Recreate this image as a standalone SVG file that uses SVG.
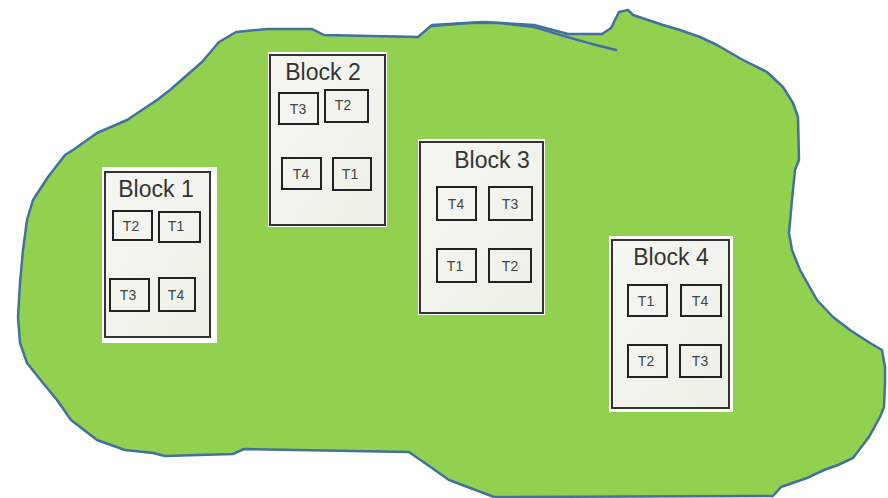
<svg xmlns="http://www.w3.org/2000/svg" width="888" height="498" viewBox="0 0 888 498">
  <defs>
    <linearGradient id="panel" x1="0" y1="0" x2="1" y2="1">
      <stop offset="0" stop-color="#f6f6f2"/>
      <stop offset="1" stop-color="#eef0e6"/>
    </linearGradient>
    <style>
      .blob { fill: #92d050; stroke: #41719c; stroke-width: 2.5; stroke-linejoin: round; }
      .blobline { fill: none; stroke: #41719c; stroke-width: 2.5; stroke-linecap: round; }
      .frame { fill: #ffffff; }
      .panel { fill: url(#panel); stroke: #333333; stroke-width: 2; }
      .task { fill: none; stroke: #222222; stroke-width: 2; }
      .title { font-family: "Liberation Sans", Arial, sans-serif; font-size: 23px; fill: #333333; text-anchor: middle; }
      .tl { font-family: "Liberation Sans", Arial, sans-serif; font-size: 14px; fill: #444444; text-anchor: middle; }
    </style>
  </defs>

  <rect width="888" height="498" fill="#ffffff"/>

  <g id="region">
    <path class="blob" d="M57,400 L43,383 L27,363 L20,343 L18,317 L20,283 L23,250 L27,220 L33,200 L48,177 L65,155 L73,150 L97,133 L127,120 L157,100 L170,90 L202,62 L219,42 L236,32 L267,29 L312,29 L324,35 L418,37 L432,25 L483,22 L534,25 L568,34 L602,34 L611,28 L619,12 L628,10 L633,15 L663,25 L680,30 L700,37 L717,45 L743,60 L767,72 L783,87 L793,103 L798,117 L799,160 L795,170 L792,200 L789,233 L792,250 L800,270 L817,300 L833,317 L850,330 L870,343 L882,350 L885,367 L885,383 L884,407 L880,417 L869,437 L853,458 L838,465 L824,470 L807,478 L781,487 L773,496 L494,497 L449,480 L432,468 L409,452 L244,449 L233,454 L165,456 L153,453 L125,450 L97,440 L71,420 Z"/>
    <path d="M540,29 L566,37 L590,44" fill="none" stroke="#ffffff" stroke-width="2"/>
    <path class="blobline" d="M432,26 L470,23 L500,23 L534,27 L560,35 L588,43 L616,50"/>
  </g>

  <g id="block1">
    <rect class="frame" x="102" y="167" width="115" height="176"/>
    <rect class="panel" x="105" y="172" width="105" height="165"/>
    <text class="title" x="156" y="197">Block 1</text>
    <g id="b1t2"><rect class="task" x="113" y="211" width="39" height="29"/><text class="tl" x="131" y="231">T2</text></g>
    <g id="b1t1"><rect class="task" x="159" y="212" width="41" height="30"/><text class="tl" x="176" y="231">T1</text></g>
    <g id="b1t3"><rect class="task" x="110" y="279" width="39" height="32"/><text class="tl" x="128" y="300">T3</text></g>
    <g id="b1t4"><rect class="task" x="159" y="278" width="36" height="33"/><text class="tl" x="176" y="300">T4</text></g>
  </g>

  <g id="block2">
    <rect class="frame" x="268" y="52" width="119" height="175"/>
    <rect class="panel" x="270" y="55" width="115" height="170"/>
    <text class="title" x="323" y="80">Block 2</text>
    <g id="b2t3"><rect class="task" x="279" y="93" width="39" height="31"/><text class="tl" x="298" y="114">T3</text></g>
    <g id="b2t2"><rect class="task" x="325" y="90" width="43" height="32"/><text class="tl" x="343" y="110">T2</text></g>
    <g id="b2t4"><rect class="task" x="282" y="158" width="39" height="31"/><text class="tl" x="301" y="179">T4</text></g>
    <g id="b2t1"><rect class="task" x="333" y="158" width="38" height="32"/><text class="tl" x="350" y="179">T1</text></g>
  </g>

  <g id="block3">
    <rect class="frame" x="418" y="139" width="127" height="176"/>
    <rect class="panel" x="420" y="142" width="123" height="171"/>
    <text class="title" x="492" y="168">Block 3</text>
    <g id="b3t4"><rect class="task" x="437" y="187" width="39" height="33"/><text class="tl" x="456" y="209">T4</text></g>
    <g id="b3t3"><rect class="task" x="489" y="187" width="43" height="33"/><text class="tl" x="510" y="209">T3</text></g>
    <g id="b3t1"><rect class="task" x="437" y="249" width="39" height="33"/><text class="tl" x="455" y="271">T1</text></g>
    <g id="b3t2"><rect class="task" x="489" y="249" width="42" height="33"/><text class="tl" x="510" y="271">T2</text></g>
  </g>

  <g id="block4">
    <rect class="frame" x="609" y="236" width="124" height="176"/>
    <rect class="panel" x="612" y="240" width="117" height="168"/>
    <text class="title" x="671" y="265">Block 4</text>
    <g id="b4t1"><rect class="task" x="628" y="285" width="39" height="31"/><text class="tl" x="646" y="306">T1</text></g>
    <g id="b4t4"><rect class="task" x="681" y="285" width="40" height="31"/><text class="tl" x="700" y="306">T4</text></g>
    <g id="b4t2"><rect class="task" x="628" y="345" width="39" height="32"/><text class="tl" x="646" y="366">T2</text></g>
    <g id="b4t3"><rect class="task" x="680" y="345" width="41" height="32"/><text class="tl" x="700" y="366">T3</text></g>
  </g>
</svg>
